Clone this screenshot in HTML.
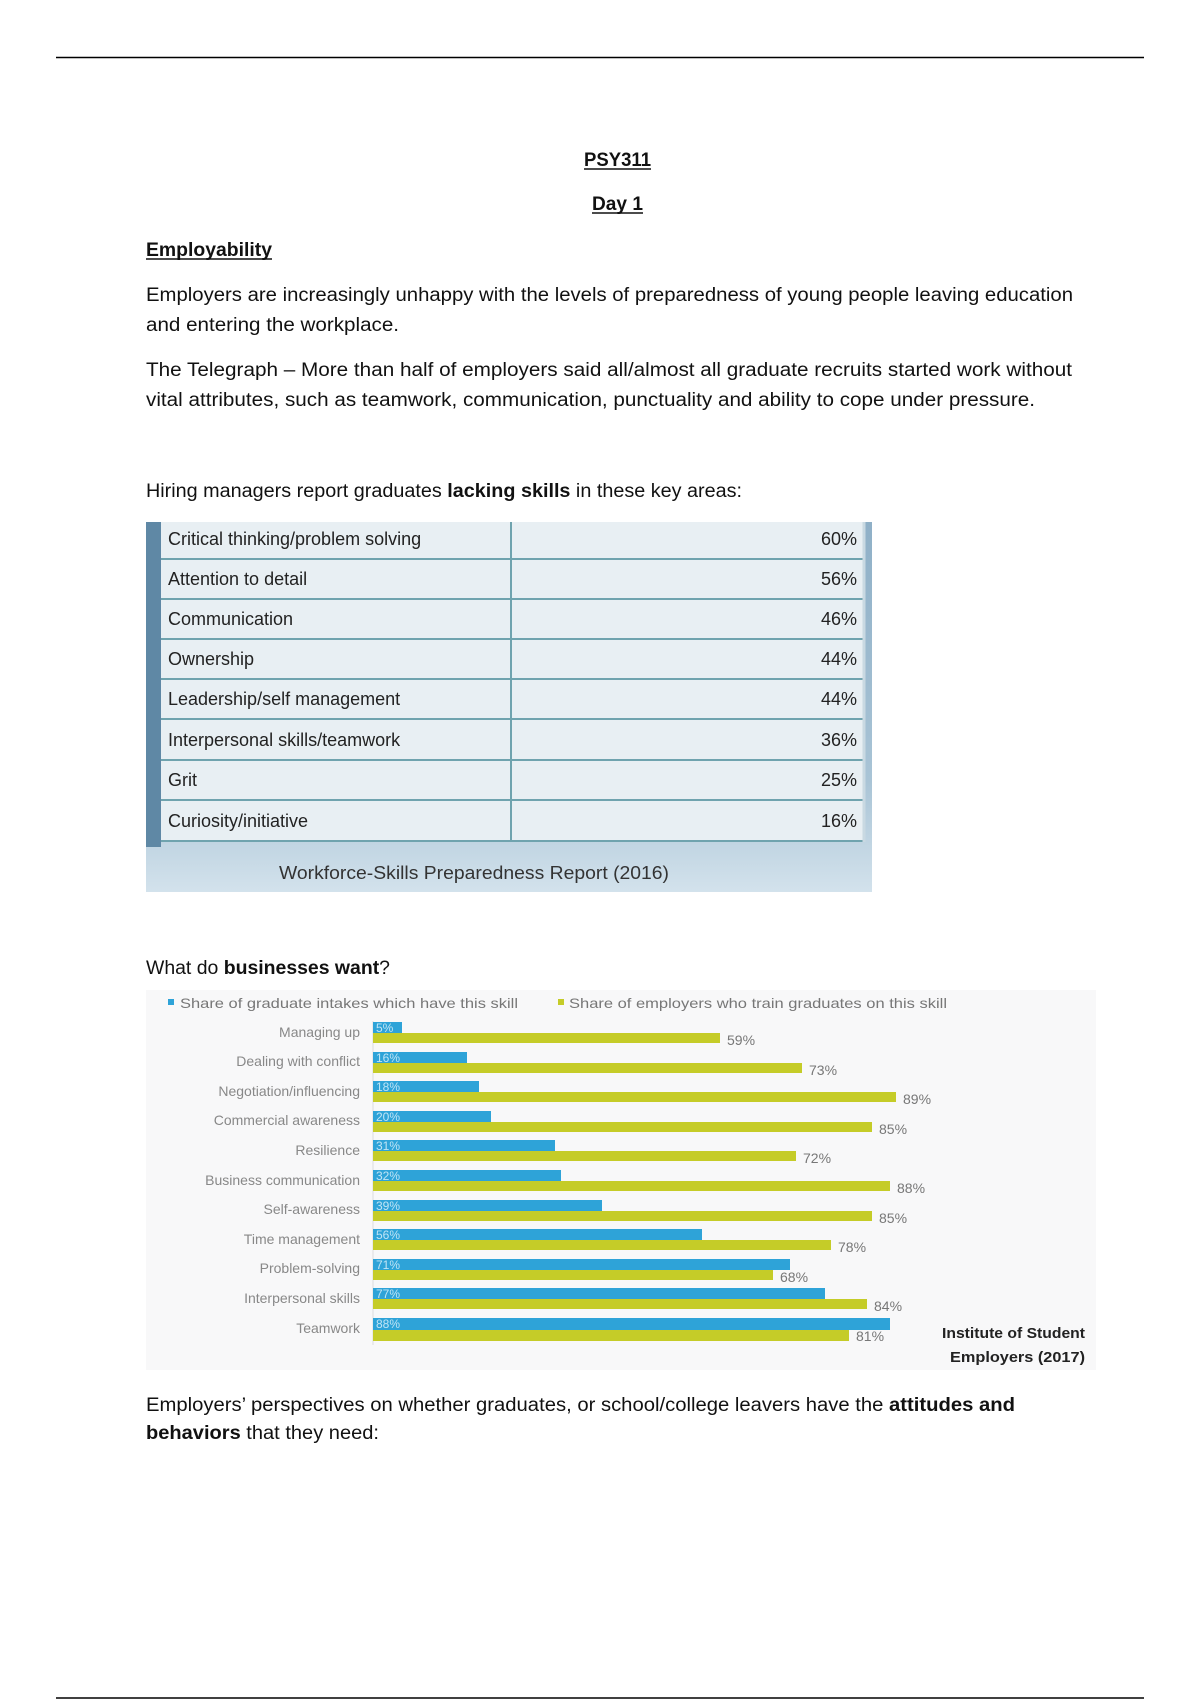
<!DOCTYPE html>
<html><head><meta charset="utf-8"><style>html,body{margin:0;padding:0;background:#fff}svg{display:block}</style></head>
<body>
<svg width="1200" height="1700" viewBox="0 0 1200 1700" xmlns="http://www.w3.org/2000/svg" font-family="Liberation Sans, sans-serif">
<defs>
<linearGradient id="tb" x1="0" y1="0" x2="0" y2="1">
<stop offset="0" stop-color="#8fb0c7"/><stop offset="0.7" stop-color="#a9c4d6"/><stop offset="1" stop-color="#d3e2ec"/>
</linearGradient>
</defs>
<line x1="56" y1="57.5" x2="1144" y2="57.5" stroke="#000" stroke-width="1.5"/>
<line x1="56" y1="1698" x2="1144" y2="1698" stroke="#000" stroke-width="1.5"/>
<rect x="146" y="990" width="950" height="380" fill="#f8f8f9"/>
<g fill="#111" font-size="19">
<text x="584" y="166" font-weight="bold" textLength="67" lengthAdjust="spacingAndGlyphs">PSY311</text>
<line x1="584" y1="169" x2="651" y2="169" stroke="#111" stroke-width="1.5"/>
<text x="592" y="210" font-weight="bold" textLength="51" lengthAdjust="spacingAndGlyphs">Day 1</text>
<line x1="592" y1="213" x2="643" y2="213" stroke="#111" stroke-width="1.5"/>
<text x="146" y="256" font-weight="bold" textLength="126" lengthAdjust="spacingAndGlyphs">Employability</text>
<line x1="146" y1="259" x2="272" y2="259" stroke="#111" stroke-width="1.5"/>
<text x="146" y="301" textLength="927" lengthAdjust="spacingAndGlyphs">Employers are increasingly unhappy with the levels of preparedness of young people leaving education</text>
<text x="146" y="331" textLength="253" lengthAdjust="spacingAndGlyphs">and entering the workplace.</text>
<text x="146" y="376" textLength="926" lengthAdjust="spacingAndGlyphs">The Telegraph – More than half of employers said all/almost all graduate recruits started work without</text>
<text x="146" y="406" textLength="889" lengthAdjust="spacingAndGlyphs">vital attributes, such as teamwork, communication, punctuality and ability to cope under pressure.</text>
<text x="146" y="497" textLength="596" lengthAdjust="spacingAndGlyphs">Hiring managers report graduates <tspan font-weight="bold">lacking skills</tspan> in these key areas:</text>
<text x="146" y="974" textLength="244" lengthAdjust="spacingAndGlyphs">What do <tspan font-weight="bold">businesses want</tspan>?</text>
<text x="146" y="1411" textLength="869" lengthAdjust="spacingAndGlyphs">Employers’ perspectives on whether graduates, or school/college leavers have the <tspan font-weight="bold">attitudes and</tspan></text>
<text x="146" y="1439" textLength="233" lengthAdjust="spacingAndGlyphs"><tspan font-weight="bold">behaviors</tspan> that they need:</text>
</g>
<rect x="146" y="522" width="726" height="370" fill="url(#tb)"/>
<rect x="146" y="522" width="15" height="325" fill="#5f88a5"/>
<rect x="161" y="522" width="703" height="320" fill="#e8eff3"/>
<g stroke="#6fa3ae" stroke-width="2">
<line x1="511" y1="522" x2="511" y2="842"/>
<line x1="161" y1="559" x2="864" y2="559"/><line x1="161" y1="599" x2="864" y2="599"/>
<line x1="161" y1="639" x2="864" y2="639"/><line x1="161" y1="679" x2="864" y2="679"/>
<line x1="161" y1="719" x2="864" y2="719"/><line x1="161" y1="760" x2="864" y2="760"/>
<line x1="161" y1="800" x2="864" y2="800"/><line x1="161" y1="841" x2="864" y2="841"/>
<line x1="864" y1="522" x2="864" y2="842" stroke="#c9d9e2" stroke-width="3"/>
</g>
<g fill="#222" font-size="18">
<text x="168" y="545">Critical thinking/problem solving</text>
<text x="168" y="585">Attention to detail</text>
<text x="168" y="625">Communication</text>
<text x="168" y="665">Ownership</text>
<text x="168" y="705">Leadership/self management</text>
<text x="168" y="746">Interpersonal skills/teamwork</text>
<text x="168" y="786">Grit</text>
<text x="168" y="827">Curiosity/initiative</text>
</g>
<g fill="#222" font-size="18" text-anchor="end">
<text x="857" y="545">60%</text><text x="857" y="585">56%</text><text x="857" y="625">46%</text><text x="857" y="665">44%</text>
<text x="857" y="705">44%</text><text x="857" y="746">36%</text><text x="857" y="786">25%</text><text x="857" y="827">16%</text>
</g>
<text x="279" y="879" font-size="18" fill="#333" textLength="390" lengthAdjust="spacingAndGlyphs">Workforce-Skills Preparedness Report (2016)</text>
<rect x="168" y="999" width="6" height="6" fill="#2ea3d8"/>
<text x="180" y="1008" font-size="14" fill="#777" textLength="338" lengthAdjust="spacingAndGlyphs">Share of graduate intakes which have this skill</text>
<rect x="558" y="999" width="6" height="6" fill="#c5cc28"/>
<text x="569" y="1008" font-size="14" fill="#777" textLength="378" lengthAdjust="spacingAndGlyphs">Share of employers who train graduates on this skill</text>
<line x1="373" y1="1021" x2="373" y2="1345" stroke="#ddd" stroke-width="1"/>
<g font-size="14" fill="#888" text-anchor="end">
<text x="360" y="1037">Managing up</text>
<text x="360" y="1066">Dealing with conflict</text>
<text x="360" y="1096">Negotiation/influencing</text>
<text x="360" y="1125">Commercial awareness</text>
<text x="360" y="1155">Resilience</text>
<text x="360" y="1185">Business communication</text>
<text x="360" y="1214">Self-awareness</text>
<text x="360" y="1244">Time management</text>
<text x="360" y="1273">Problem-solving</text>
<text x="360" y="1303">Interpersonal skills</text>
<text x="360" y="1333">Teamwork</text>
</g>
<g>
<rect x="373" y="1022" width="29" height="11" fill="#2ea3d8"/><rect x="373" y="1033" width="347" height="10" fill="#c5cc28"/>
<rect x="373" y="1052" width="94" height="11" fill="#2ea3d8"/><rect x="373" y="1063" width="429" height="10" fill="#c5cc28"/>
<rect x="373" y="1081" width="106" height="11" fill="#2ea3d8"/><rect x="373" y="1092" width="523" height="10" fill="#c5cc28"/>
<rect x="373" y="1111" width="118" height="11" fill="#2ea3d8"/><rect x="373" y="1122" width="499" height="10" fill="#c5cc28"/>
<rect x="373" y="1140" width="182" height="11" fill="#2ea3d8"/><rect x="373" y="1151" width="423" height="10" fill="#c5cc28"/>
<rect x="373" y="1170" width="188" height="11" fill="#2ea3d8"/><rect x="373" y="1181" width="517" height="10" fill="#c5cc28"/>
<rect x="373" y="1200" width="229" height="11" fill="#2ea3d8"/><rect x="373" y="1211" width="499" height="10" fill="#c5cc28"/>
<rect x="373" y="1229" width="329" height="11" fill="#2ea3d8"/><rect x="373" y="1240" width="458" height="10" fill="#c5cc28"/>
<rect x="373" y="1259" width="417" height="11" fill="#2ea3d8"/><rect x="373" y="1270" width="400" height="10" fill="#c5cc28"/>
<rect x="373" y="1288" width="452" height="11" fill="#2ea3d8"/><rect x="373" y="1299" width="494" height="10" fill="#c5cc28"/>
<rect x="373" y="1318" width="517" height="12" fill="#2ea3d8"/><rect x="373" y="1330" width="476" height="11" fill="#c5cc28"/>
</g>
<g font-size="12" fill="#bfe4f5">
<text x="376" y="1032">5%</text><text x="376" y="1062">16%</text><text x="376" y="1091">18%</text><text x="376" y="1121">20%</text>
<text x="376" y="1150">31%</text><text x="376" y="1180">32%</text><text x="376" y="1210">39%</text><text x="376" y="1239">56%</text>
<text x="376" y="1269">71%</text><text x="376" y="1298">77%</text><text x="376" y="1328">88%</text>
</g>
<g font-size="14" fill="#777">
<text x="727" y="1045">59%</text><text x="809" y="1075">73%</text><text x="903" y="1104">89%</text><text x="879" y="1134">85%</text>
<text x="803" y="1163">72%</text><text x="897" y="1193">88%</text><text x="879" y="1223">85%</text><text x="838" y="1252">78%</text>
<text x="780" y="1282">68%</text><text x="874" y="1311">84%</text><text x="856" y="1341">81%</text>
</g>
<text x="942" y="1338" font-size="15" font-weight="bold" fill="#222" textLength="143" lengthAdjust="spacingAndGlyphs">Institute of Student</text>
<text x="950" y="1362" font-size="15" font-weight="bold" fill="#222" textLength="135" lengthAdjust="spacingAndGlyphs">Employers (2017)</text>
</svg>
</body></html>
